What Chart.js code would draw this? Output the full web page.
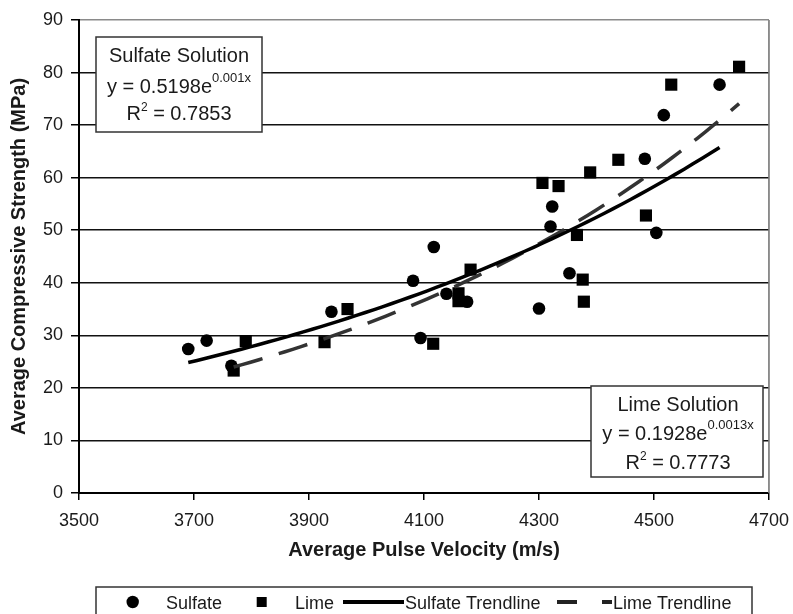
<!DOCTYPE html>
<html><head><meta charset="utf-8">
<script src="https://cdn.jsdelivr.net/npm/chart.js@4.4.1/dist/chart.umd.min.js"></script>
<style>html,body{margin:0;padding:0;background:#fff;}#wrap{width:793px;height:614px;position:relative;}</style>
</head><body><div id="wrap"><canvas id="c" width="793" height="614"></canvas></div>
<script>
// ---- data ----
const sulfateX = [3690, 3722, 3765, 3939, 4081, 4094, 4117, 4139, 4175, 4300, 4320, 4323, 4353, 4484, 4504, 4517, 4614];
const sulfateY = [27.4, 29.0, 24.2, 34.5, 40.4, 29.5, 46.8, 37.9, 36.4, 35.1, 50.7, 54.5, 41.8, 63.6, 49.5, 71.9, 77.7];
const limeX = [3769, 3790, 3927, 3967, 4116, 4160, 4160, 4181, 4306, 4334, 4366, 4376, 4378, 4389, 4438, 4486, 4530, 4648];
const limeY = [23.3, 28.9, 28.7, 35.0, 28.4, 38.0, 36.5, 42.5, 59.0, 58.4, 49.1, 40.6, 36.4, 61.0, 63.4, 52.8, 77.7, 81.1];
const xTickValues = [3500, 3700, 3900, 4100, 4300, 4500, 4700];
const yTickValues = [0, 10, 20, 30, 40, 50, 60, 70, 80, 90];
const seriesNames = ['Sulfate', 'Lime', 'Sulfate Trendline', 'Lime Trendline'];
const xTitle = 'Average Pulse Velocity (m/s)';
const yTitle = 'Average Compressive Strength (MPa)';
const sulfateNote = { title: 'Sulfate Solution', eq: 'y = 0.5198e', exp: '0.001x', r2: ' = 0.7853' };
const limeNote = { title: 'Lime Solution', eq: 'y = 0.1928e', exp: '0.0013x', r2: ' = 0.7773' };

// exponential least-squares trendline (as the spreadsheet does)
function expFit(xs, ys) {
  const n = xs.length;
  const mx = xs.reduce((s, v) => s + v, 0) / n;
  const ly = ys.map(v => Math.log(v));
  const my = ly.reduce((s, v) => s + v, 0) / n;
  let sxy = 0, sxx = 0;
  for (let i = 0; i < n; i++) { sxy += (xs[i] - mx) * (ly[i] - my); sxx += (xs[i] - mx) ** 2; }
  const b = sxy / sxx;
  const a = Math.exp(my - b * mx);
  return { a, b };
}
function trend(xs, ys) {
  const f = expFit(xs, ys);
  const lo = Math.min(...xs), hi = Math.max(...xs);
  const pts = [];
  const N = 60;
  for (let i = 0; i <= N; i++) { const x = lo + (hi - lo) * i / N; pts.push({ x, y: f.a * Math.exp(f.b * x) }); }
  return pts;
}
const pairs = (xs, ys) => xs.map((x, i) => ({ x, y: ys[i] }));

const FONT = "'Liberation Sans', Arial, sans-serif";
const TXT = '#1a1a1a';

const overlay = {
  id: 'overlay',
  afterDraw(chart) {
    const ctx = chart.ctx;
    ctx.save();
    const ca = chart.chartArea;
    ctx.strokeStyle = '#8a8a8a'; ctx.lineWidth = 1.5;
    ctx.beginPath(); ctx.moveTo(ca.right, ca.top); ctx.lineTo(ca.right, ca.bottom); ctx.stroke();

    function note(box, n, cx, bl) {
      ctx.fillStyle = '#fff';
      ctx.fillRect(box[0], box[1], box[2] - box[0], box[3] - box[1]);
      ctx.strokeStyle = '#333'; ctx.lineWidth = 1.5;
      ctx.strokeRect(box[0], box[1], box[2] - box[0], box[3] - box[1]);
      ctx.fillStyle = TXT; ctx.textBaseline = 'alphabetic';
      const big = '20px ' + FONT, sm = '13px ' + FONT, sm2 = '12px ' + FONT;
      ctx.font = big; ctx.textAlign = 'center';
      ctx.fillText(n.title, cx, bl[0]);
      ctx.textAlign = 'left';
      ctx.font = big; const w1 = ctx.measureText(n.eq).width;
      ctx.font = sm; const w2 = ctx.measureText(n.exp).width;
      let x0 = cx - (w1 + w2) / 2;
      ctx.font = big; ctx.fillText(n.eq, x0, bl[1]);
      ctx.font = sm; ctx.fillText(n.exp, x0 + w1, bl[1] - 11);
      ctx.font = big; const r1 = ctx.measureText('R').width;
      ctx.font = sm2; const r2 = ctx.measureText('2').width;
      ctx.font = big; const r3 = ctx.measureText(n.r2).width;
      x0 = cx - (r1 + r2 + r3) / 2;
      ctx.font = big; ctx.fillText('R', x0, bl[2]);
      ctx.font = sm2; ctx.fillText('2', x0 + r1, bl[2] - 9);
      ctx.font = big; ctx.fillText(n.r2, x0 + r1 + r2, bl[2]);
    }
    note([96, 37, 262, 132], sulfateNote, 179, [61.5, 92.5, 120]);
    note([591, 386, 763, 477], limeNote, 678, [410.5, 440, 469]);

    // legend
    ctx.fillStyle = '#fff';
    ctx.fillRect(96, 587, 656, 40);
    ctx.strokeStyle = '#333'; ctx.lineWidth = 1.5;
    ctx.strokeRect(96, 587, 656, 40);
    const ly = 602;
    ctx.fillStyle = '#000';
    ctx.beginPath(); ctx.arc(132.7, ly, 6.2, 0, Math.PI * 2); ctx.fill();
    ctx.fillRect(256.7, ly - 5, 10, 10);
    ctx.strokeStyle = '#000'; ctx.lineWidth = 4;
    ctx.beginPath(); ctx.moveTo(343, ly); ctx.lineTo(404, ly); ctx.stroke();
    ctx.strokeStyle = '#222';
    ctx.beginPath(); ctx.moveTo(557, ly); ctx.lineTo(577, ly); ctx.moveTo(602, ly); ctx.lineTo(612, ly); ctx.stroke();
    ctx.fillStyle = TXT; ctx.font = '18px ' + FONT; ctx.textAlign = 'left'; ctx.textBaseline = 'alphabetic';
    ctx.fillText(seriesNames[0], 166, 609);
    ctx.fillText(seriesNames[1], 295, 609);
    ctx.fillText(seriesNames[2], 405, 609);
    ctx.fillText(seriesNames[3], 613, 609);
    ctx.restore();
  }
};

new Chart(document.getElementById('c'), {
  type: 'scatter',
  data: {
    datasets: [
      { label: seriesNames[0], data: pairs(sulfateX, sulfateY), pointStyle: 'circle', pointRadius: 6.3, pointHoverRadius: 6.3,
        backgroundColor: '#000', borderColor: '#000', borderWidth: 0, order: 2 },
      { label: seriesNames[1], data: pairs(limeX, limeY), pointStyle: 'rect', pointRadius: 8.6, pointHoverRadius: 8.6,
        backgroundColor: '#000', borderColor: '#000', borderWidth: 0, order: 2 },
      { type: 'line', label: seriesNames[2], data: trend(sulfateX, sulfateY), showLine: true, pointRadius: 0,
        borderColor: '#000', borderWidth: 3.5, tension: 0, fill: false, order: 1 },
      { type: 'line', label: seriesNames[3], data: trend(limeX, limeY), showLine: true, pointRadius: 0,
        borderColor: '#333', borderWidth: 3.5, borderDash: [30, 17], borderCapStyle: 'butt', tension: 0, fill: false, order: 1 }
    ]
  },
  options: {
    responsive: false, animation: false, devicePixelRatio: 1,
    layout: { padding: { left: 0, right: 24, top: 20, bottom: 52 } },
    plugins: { legend: { display: false }, tooltip: { enabled: false } },
    scales: {
      x: {
        type: 'linear', min: 3500, max: 4700,
        afterBuildTicks: s => { s.ticks = xTickValues.map(v => ({ value: v })); },
        afterFit: s => { s.height = 69; s.paddingLeft = 0; s.paddingRight = 0; },
        ticks: { color: TXT, font: { family: FONT, size: 18 }, padding: 10, maxRotation: 0, autoSkip: false, callback: v => String(v) },
        grid: { color: c => (c.index === xTickValues.length - 1 ? '#8a8a8a' : 'rgba(0,0,0,0)'), tickColor: '#000', tickLength: 7, lineWidth: 1.5 },
        border: { color: '#000', width: 2 },
        title: { display: true, text: xTitle, color: TXT, font: { family: FONT, size: 20, weight: 'bold' }, padding: { top: 0, bottom: 0 } }
      },
      y: {
        type: 'linear', min: 0, max: 90,
        afterBuildTicks: s => { s.ticks = yTickValues.map(v => ({ value: v })); },
        afterFit: s => { s.width = 79; s.paddingTop = 0; s.paddingBottom = 0; },
        ticks: { color: TXT, font: { family: FONT, size: 18 }, padding: 8, autoSkip: false, callback: v => String(v) },
        grid: { color: c => (c.tick && c.tick.value === 90 ? '#8a8a8a' : '#111'), tickColor: '#000', tickLength: 8, lineWidth: 1.5 },
        border: { color: '#000', width: 2 },
        title: { display: true, text: yTitle, color: TXT, font: { family: FONT, size: 20, weight: 'bold' }, padding: { top: 7.5, bottom: 0 } }
      }
    }
  },
  plugins: [overlay]
});
</script></body></html>
